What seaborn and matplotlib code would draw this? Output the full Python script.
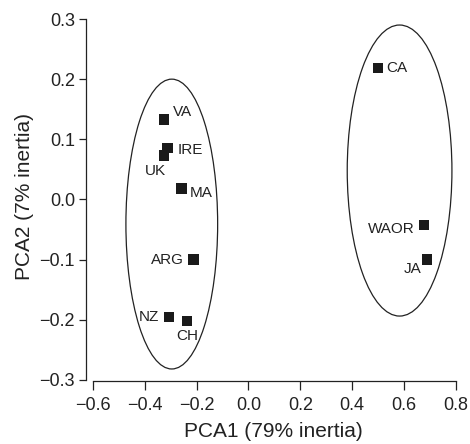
import matplotlib
matplotlib.use("Agg")
import pandas as pd
import seaborn as sns
import matplotlib.pyplot as plt
from matplotlib.patches import Ellipse

# PCA scores per region
regions = ["VA", "IRE", "UK", "MA", "ARG", "NZ", "CH", "CA", "WAOR", "JA"]
pca1 = [-0.327, -0.312, -0.327, -0.258, -0.212, -0.308, -0.238, 0.500, 0.677, 0.688]
pca2 = [0.133, 0.085, 0.073, 0.018, -0.100, -0.196, -0.202, 0.219, -0.043, -0.100]

# label offsets in points (dx, dy) and alignment
label_dx = [6.5, 7, -6, 6, -7, -7, 0, 6, -6.5, -3.5]
label_dy = [5, -1.5, -11.5, -3, 0, 0, -11, 0, -3, -7]
label_ha = ["left", "left", "center", "left", "right", "right", "center", "left", "right", "right"]

# group ellipses: center x, center y, width, height
ell_cx = [-0.296, 0.583]
ell_cy = [-0.041, 0.048]
ell_w = [0.354, 0.404]
ell_h = [0.482, 0.484]

sns.set_style("ticks")
plt.rcParams['font.family'] = ['Liberation Sans', 'DejaVu Sans']

df = pd.DataFrame({"region": regions, "PCA1": pca1, "PCA2": pca2})

fig = plt.figure(figsize=(4.7, 4.44), dpi=100)
ax = fig.add_axes([86 / 470, 1 - 381 / 444, (461 - 86) / 470, (381 - 13) / 444])

sns.scatterplot(data=df, x="PCA1", y="PCA2", marker="s", s=55, color="#1a1a1a",
                edgecolor="none", ax=ax, legend=False)

for r, x, y, dx, dy, ha in zip(regions, pca1, pca2, label_dx, label_dy, label_ha):
    ax.annotate(r, (x, y), xytext=(dx, dy), textcoords="offset points",
                ha=ha, va="center", fontsize=11, color="#222222")

for cx, cy, w, h in zip(ell_cx, ell_cy, ell_w, ell_h):
    ax.add_patch(Ellipse((cx, cy), w, h, fill=False, edgecolor="#222222", linewidth=0.9))

ax.set_xlim(-0.627, 0.82)
ax.set_ylim(-0.302, 0.31)
ax.set_xticks([-0.6, -0.4, -0.2, 0.0, 0.2, 0.4, 0.6, 0.8])
ax.set_yticks([-0.3, -0.2, -0.1, 0.0, 0.1, 0.2, 0.3])
ax.set_xticklabels(["\u22120.6", "\u22120.4", "\u22120.2", "0.0", "0.2", "0.4", "0.6", "0.8"])
ax.set_yticklabels(["\u22120.3", "\u22120.2", "\u22120.1", "0.0", "0.1", "0.2", "0.3"])
sns.despine(ax=ax, trim=True)
ax.tick_params(labelsize=13, width=0.9, colors="#222222")
ax.tick_params(axis="x", length=6.5, pad=5)
ax.tick_params(axis="y", length=5, pad=3)
for s in ["left", "bottom"]:
    ax.spines[s].set_linewidth(0.9)
    ax.spines[s].set_color("#222222")

ax.set_xlabel("PCA1 (79% inertia)", fontsize=15, color="#222222", labelpad=6)
ax.set_ylabel("PCA2 (7% inertia)", fontsize=15, color="#222222", labelpad=4)

fig.savefig("out.png", dpi=100)
